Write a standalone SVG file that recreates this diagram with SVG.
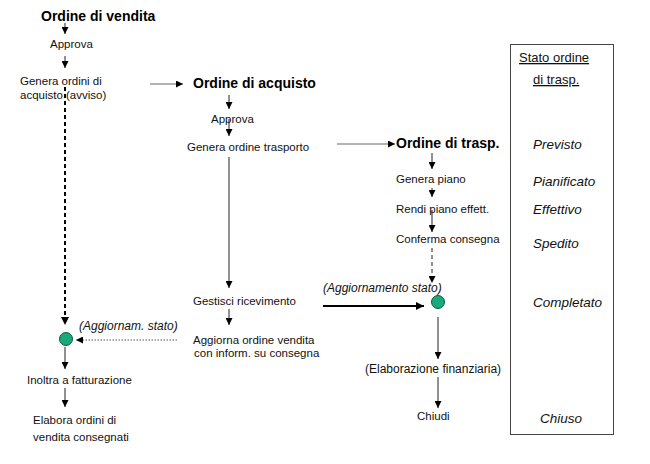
<svg xmlns="http://www.w3.org/2000/svg" width="650" height="464" viewBox="0 0 650 464">
<style>
text{font-family:"Liberation Sans",Arial,sans-serif;fill:#111}
.t{font-size:11.5px}
.b{font-size:14px;font-weight:bold;fill:#000}
.i{font-size:12px;font-style:italic}
.s{font-size:13.5px;font-style:italic}
.h{font-size:13px;text-decoration:underline}
.c line{stroke:#222;stroke-width:1;fill:none}
.c line.a{marker-end:url(#ah)}
.c line.g{stroke:#666}
.c line.k{stroke:#000;stroke-width:2}
.c line.d{stroke-dasharray:4,3}
.c line.o{stroke:#555;stroke-dasharray:1.5,1.5}
.dot{fill:#19a97b;stroke:#0b5a40;stroke-width:1}
</style>
<defs>
<marker id="ah" viewBox="0 0 8 8" refX="8" refY="4" markerWidth="7" markerHeight="7" markerUnits="userSpaceOnUse" orient="auto">
<path d="M0,0 L8,4 L0,8 z" fill="#000"/>
</marker>
<marker id="ahk" viewBox="0 0 8 8" refX="8" refY="4" markerWidth="9" markerHeight="8" markerUnits="userSpaceOnUse" orient="auto">
<path d="M0,0 L8,4 L0,8 z" fill="#000"/>
</marker>
</defs>
<rect width="650" height="464" fill="#fff"/>

<g id="connectors" class="c">
<line class="a" x1="65" y1="23" x2="65" y2="34"/>
<line class="a" x1="65" y1="56" x2="65" y2="68"/>
<line class="k d" x1="65" y1="87" x2="65" y2="318" />
<line x1="65" y1="318" x2="65" y2="325" style="stroke:none;marker-end:url(#ahk)"/>
<line class="a g" x1="150" y1="84" x2="183" y2="84"/>
<line class="a" x1="229" y1="95" x2="229" y2="109"/>
<line class="a" x1="229" y1="119" x2="229" y2="136"/>
<line class="a" x1="229" y1="157" x2="229" y2="288"/>
<line class="a" x1="229" y1="309" x2="229" y2="325"/>
<line class="o" x1="177" y1="340" x2="76" y2="340" style="marker-end:url(#ah)"/>
<line class="a" x1="65" y1="347" x2="65" y2="369"/>
<line class="a" x1="65" y1="388" x2="65" y2="407"/>
<line class="a g" x1="337" y1="144" x2="395" y2="144"/>
<line class="a" x1="432" y1="153" x2="432" y2="169"/>
<line class="a" x1="432" y1="188" x2="432" y2="197"/>
<line class="a" x1="432" y1="210" x2="432" y2="232"/>
<line class="d" x1="432" y1="248" x2="432" y2="283" style="marker-end:url(#ah)"/>
<line class="k" x1="323" y1="306" x2="424" y2="306" style="marker-end:url(#ahk)"/>
<line class="a" x1="438" y1="317" x2="438" y2="359"/>
<line class="a" x1="438" y1="377" x2="438" y2="408"/>
</g>

<g id="n-ordine-vendita"><text class="b" x="41" y="21">Ordine di vendita</text></g>
<g id="n-approva-1"><text class="t" x="50" y="48">Approva</text></g>
<g id="n-genera-ordini-acquisto"><text class="t" x="20" y="85">Genera ordini di</text><text class="t" x="20" y="99">acquisto (avviso)</text></g>
<g id="n-ordine-acquisto"><text class="b" x="193" y="88">Ordine di acquisto</text></g>
<g id="n-approva-2"><text class="t" x="211" y="123">Approva</text></g>
<g id="n-genera-ordine-trasporto"><text class="t" x="187" y="151">Genera ordine trasporto</text></g>
<g id="n-ordine-trasp"><text class="b" x="396" y="148">Ordine di trasp.</text></g>
<g id="n-genera-piano"><text class="t" x="396" y="183">Genera piano</text></g>
<g id="n-rendi-piano"><text class="t" x="396" y="213">Rendi piano effett.</text></g>
<g id="n-conferma-consegna"><text class="t" x="396" y="243">Conferma consegna</text></g>
<g id="n-stato-2"><text class="i" x="323" y="292">(Aggiornamento stato)</text><circle class="dot" cx="438" cy="302" r="6.5"/></g>
<g id="n-gestisci"><text class="t" x="193" y="305">Gestisci ricevimento</text></g>
<g id="n-aggiorna"><text class="t" x="193" y="344">Aggiorna ordine vendita</text><text class="t" x="194" y="357">con inform. su consegna</text></g>
<g id="n-stato-1"><text class="i" x="79" y="330">(Aggiornam. stato)</text><circle class="dot" cx="66" cy="339" r="6.5"/></g>
<g id="n-inoltra"><text class="t" x="27" y="384">Inoltra a fatturazione</text></g>
<g id="n-elabora"><text class="t" x="33" y="424">Elabora ordini di</text><text class="t" x="33" y="441">vendita consegnati</text></g>
<g id="n-elab-fin"><text class="t" x="365" y="373" style="font-size:12px">(Elaborazione finanziaria)</text></g>
<g id="n-chiudi"><text class="t" x="417" y="420">Chiudi</text></g>

<g id="n-stato-box">
<rect x="510.5" y="44.5" width="103" height="390" fill="none" stroke="#444" stroke-width="1"/>
<text class="h" x="519" y="62">Stato ordine</text>
<text class="h" x="533" y="84">di trasp.</text>
<text class="s" x="533" y="149">Previsto</text>
<text class="s" x="533" y="186">Pianificato</text>
<text class="s" x="533" y="214">Effettivo</text>
<text class="s" x="533" y="248">Spedito</text>
<text class="s" x="533" y="307">Completato</text>
<text class="s" x="540" y="423">Chiuso</text>
</g>
</svg>
